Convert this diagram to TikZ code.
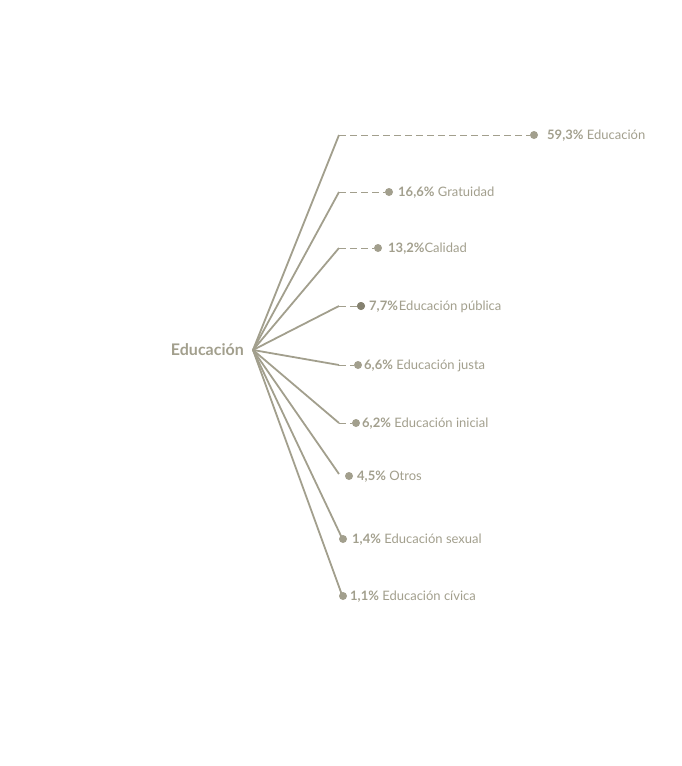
\documentclass[tikz,border=0pt]{standalone}
\usepackage{fontspec}
\setmainfont{Lato}
\definecolor{olivegris}{HTML}{A29F8D}
\definecolor{olivedark}{HTML}{858270}
\tikzset{
	rama/.style={draw=olivegris, line width=1.8pt},
	guia/.style={draw=olivegris, line width=1pt, dash pattern=on 7pt off 4pt},
	punto/.style={circle, fill=olivegris, inner sep=0pt, minimum size=8pt},
	etiqueta/.style={anchor=base west, text=olivegris, inner sep=0pt,
		font=\fontsize{13}{15}\selectfont},
}
\begin{document}
\begin{tikzpicture}[x=1pt, y=-1pt]
		\useasboundingbox (0, 0) rectangle (682, 766);
		\node[anchor=base east, text=olivegris, inner sep=0pt,
			font=\bfseries\fontsize{16}{18}\selectfont] (raiz) at (244, 355.5) {Educación};
		\coordinate (centro) at (253, 350);
		% ramas con guia punteada
		\foreach \n/\y/\xp/\xt/\txt in {1/135/534/547/{\textbf{59,3\%} Educación},
				2/192/389/398/{\textbf{16,6\%} Gratuidad},
				3/248/378/388/{\textbf{13,2\%}Calidad},
				4/306/361/369/{\textbf{7,7\%}\kern1pt Educación pública},
				5/365/358/364/{\textbf{6,6\%} Educación justa},
				6/423/356/362/{\textbf{6,2\%} Educación inicial}}{
			\coordinate (b\n) at (339, \y);
			\node[punto] (p\n) at (\xp, \y) {};
			\draw[rama] (centro) -- (b\n);
			\draw[guia] (b\n) -- (p\n);
			\node[etiqueta] (t\n) at (\xt, \y + 4.5) {\txt};
		}
		% ramas sin guia
		\foreach \n/\xb/\yb/\xp/\y/\xt/\txt in {7/339/474/349/476/357/{\textbf{4,5\%} Otros},
				8/342/538/343/539/352/{\textbf{1,4\%} Educación sexual},
				9/342/595/343/596/350/{\textbf{1,1\%} Educación cívica}}{
			\coordinate (b\n) at (\xb, \yb);
			\draw[rama] (centro) -- (b\n);
			\node[punto] (p\n) at (\xp, \y) {};
			\node[etiqueta] (t\n) at (\xt, \y + 4.5) {\txt};
		}
		\node[punto, fill=olivedark] at (p4) {};
	\end{tikzpicture}
\end{document}
